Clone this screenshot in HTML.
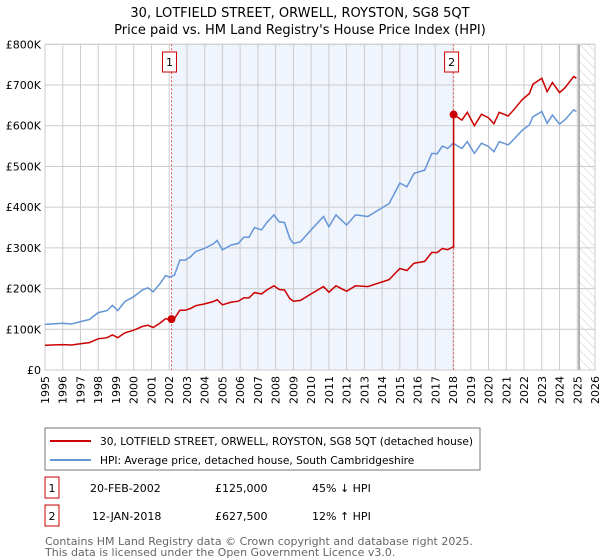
<!DOCTYPE html>
<html><head><meta charset="utf-8"><style>
body{margin:0;width:600px;height:560px;background:#fff;font-family:"DejaVu Sans","Liberation Sans",sans-serif;overflow:hidden}
svg{position:absolute;left:0;top:0}
</style></head><body>
<svg width="600" height="560" id="c" font-family="DejaVu Sans, Liberation Sans, sans-serif">
<defs><pattern id="hatch" width="6" height="6" patternUnits="userSpaceOnUse" patternTransform="rotate(-45)"><line x1="0" y1="0" x2="0" y2="6" stroke="#ccc" stroke-width="1"/></pattern></defs>
<text x="300" y="17" text-anchor="middle" font-size="13">30, LOTFIELD STREET, ORWELL, ROYSTON, SG8 5QT</text>
<text x="300" y="34" text-anchor="middle" font-size="13">Price paid vs. HM Land Registry's House Price Index (HPI)</text>
<g id="plot"></g>
<rect x="45" y="428" width="435" height="42" fill="#fff" stroke="#777"/>
<line x1="50" y1="441" x2="91" y2="441" stroke="#cc0000" stroke-width="2"/>
<text x="100" y="445" font-size="10.6">30, LOTFIELD STREET, ORWELL, ROYSTON, SG8 5QT (detached house)</text>
<line x1="50" y1="460" x2="91" y2="460" stroke="#6495d6" stroke-width="2"/>
<text x="100" y="464" font-size="10.6">HPI: Average price, detached house, South Cambridgeshire</text>
<g font-size="11">
<rect x="45" y="477" width="14" height="21" fill="#fff" stroke="#cc0000"/>
<text x="52" y="492" text-anchor="middle">1</text>
<text x="90" y="492">20-FEB-2002</text>
<text x="215" y="492">£125,000</text>
<text x="312" y="492">45% ↓ HPI</text>
<rect x="45" y="505" width="14" height="21" fill="#fff" stroke="#cc0000"/>
<text x="52" y="520" text-anchor="middle">2</text>
<text x="92" y="520">12-JAN-2018</text>
<text x="215" y="520">£627,500</text>
<text x="312" y="520">12% ↑ HPI</text>
</g>
<text x="45" y="545" font-size="11" fill="#666">Contains HM Land Registry data © Crown copyright and database right 2025.</text>
<text x="45" y="556" font-size="11" fill="#666">This data is licensed under the Open Government Licence v3.0.</text>
</svg>
<script>
const hpiYears=[1995,1996,1996.5,1997,1997.5,1998,1998.5,1998.8,1999.1,1999.5,2000,2000.5,2000.8,2001.1,2001.5,2001.8,2002,2002.3,2002.6,2002.9,2003.2,2003.5,2004,2004.5,2004.7,2005,2005.5,2005.9,2006.2,2006.5,2006.8,2007.2,2007.5,2007.9,2008.2,2008.5,2008.8,2009,2009.4,2010,2010.7,2011,2011.4,2012,2012.5,2013.2,2013.8,2014.4,2015,2015.4,2015.8,2016.4,2016.8,2017.1,2017.4,2017.7,2018,2018.5,2018.8,2019.2,2019.6,2020,2020.3,2020.6,2021.1,2021.3,2021.9,2022.3,2022.5,2023,2023.3,2023.6,2024,2024.3,2024.8,2024.95];
const hpiValues=[112,115,113,119,124,141,146,159,146,168,180,197,202,192,213,232,228,233,270,270,278,291,299,310,318,295,307,311,326,326,350,344,362,381,364,362,323,311,315,344,377,352,381,356,381,377,393,409,459,450,483,491,532,531,550,544,557,544,561,532,557,549,536,561,553,561,589,602,622,635,606,626,604,614,639,635];
const saleDates=[2002.13,2018.03];
const salePrices=[125,627.5];
const saleLabels=["1","2"];
const yTicks=[0,100,200,300,400,500,600,700,800];
const yTickLabels=["£0","£100K","£200K","£300K","£400K","£500K","£600K","£700K","£800K"];
const xYears=[1995,1996,1997,1998,1999,2000,2001,2002,2003,2004,2005,2006,2007,2008,2009,2010,2011,2012,2013,2014,2015,2016,2017,2018,2019,2020,2021,2022,2023,2024,2025,2026];
const dataEnd=2025.1;

const L=45,R=595,T=44.3,B=370,NS="http://www.w3.org/2000/svg";
const X=y=>L+(y-1995)/(2026-1995)*(R-L);
const Y=v=>B-v/800*(B-T);
const g=document.getElementById('plot');
function mk(t,a,p){const e=document.createElementNS(NS,t);for(const k in a)e.setAttribute(k,a[k]);(p||g).appendChild(e);return e;}
function hpiAt(t){for(let i=0;i<hpiYears.length-1;i++){if(t<=hpiYears[i+1]){const f=(t-hpiYears[i])/(hpiYears[i+1]-hpiYears[i]);return hpiValues[i]+f*(hpiValues[i+1]-hpiValues[i]);}}return hpiValues[hpiValues.length-1];}

let r=mk('rect',{x:X(saleDates[0]),y:T,width:X(saleDates[1])-X(saleDates[0]),height:B-T,fill:'#f0f4fd'});


yTicks.forEach((v,i)=>{
 let l=mk('line',{x1:L,x2:R,y1:Y(v),y2:Y(v),stroke:'#ccc'});
 
 
 let t=mk('text',{x:L-4,y:Y(v)+4,'text-anchor':'end','font-size':11});
 
 
 t.textContent=yTickLabels[i];
});
xYears.forEach(yr=>{
 let l=mk('line',{x1:X(yr),x2:X(yr),y1:T,y2:B,stroke:'#ccc'});
 
 
 let t=mk('text',{x:0,y:0,'text-anchor':'end','font-size':11,transform:`translate(${X(yr)+4},${B+6}) rotate(-90)`});
 
 
 t.textContent=yr;
});
let h=mk('rect',{x:X(dataEnd),y:T,width:R-X(dataEnd),height:B-T,fill:'url(#hatch)'});


let dl=mk('line',{x1:X(dataEnd),x2:X(dataEnd),y1:T,y2:B,stroke:'#999','stroke-width':1.5});


let fr=mk('rect',{x:L,y:T,width:R-L,height:B-T,fill:'none',stroke:'#ccc'});



saleDates.forEach((d,i)=>{
 let l=mk('line',{x1:X(d),x2:X(d),y1:T,y2:B,stroke:'#e06060','stroke-dasharray':'2,2'});
 
 
 let b=mk('rect',{x:X(d)-9,y:52,width:14,height:20,fill:'#fff',stroke:'#cc0000'});
 
 
 let t=mk('text',{x:X(d)-2,y:66,'text-anchor':'middle','font-size':11});
 
 
 t.textContent=saleLabels[i];
});

let hp=hpiYears.map((y,i)=>X(y).toFixed(1)+','+Y(hpiValues[i]).toFixed(1)).join(' ');
let hl=mk('polyline',{points:hp,fill:'none',stroke:'#6495d6','stroke-width':1.5});



const pts=[];
const r0=salePrices[0]/hpiAt(saleDates[0]),r1=salePrices[1]/hpiAt(saleDates[1]);
hpiYears.forEach((y,i)=>{if(y<saleDates[1])pts.push([y,hpiValues[i]*r0]);});
pts.push([saleDates[1],hpiAt(saleDates[1])*r0]);
pts.push([saleDates[1],salePrices[1]]);
hpiYears.forEach((y,i)=>{if(y>saleDates[1])pts.push([y,hpiValues[i]*r1]);});
let pl=mk('polyline',{points:pts.map(p=>X(p[0]).toFixed(1)+','+Y(p[1]).toFixed(1)).join(' '),fill:'none',stroke:'#cc0000','stroke-width':1.5});


saleDates.forEach((d,i)=>{
 let c=mk('circle',{cx:X(d),cy:Y(salePrices[i]),r:4,fill:'#cc0000'});
 
 
});
</script>
</body></html>
